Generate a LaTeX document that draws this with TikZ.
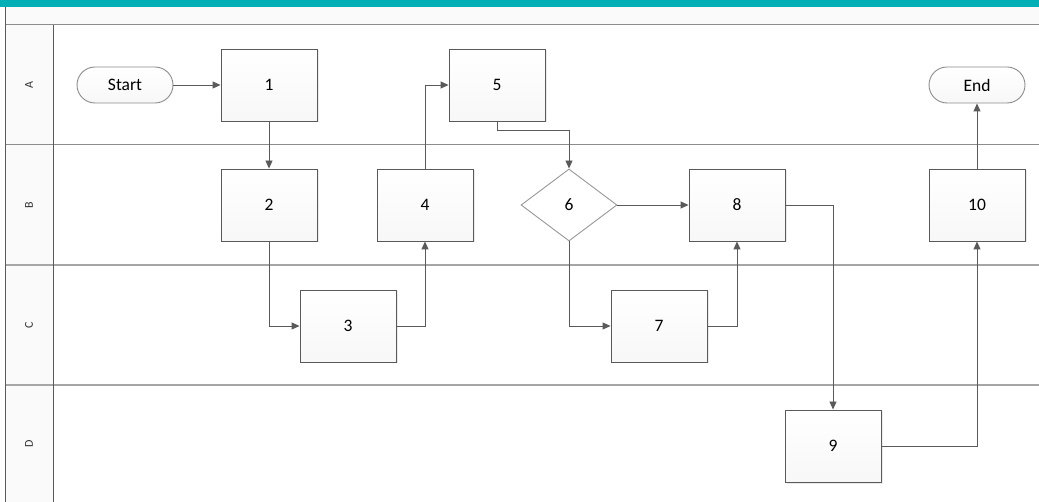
\documentclass[tikz,border=0pt]{standalone}
\usepackage{fontspec}
\setmainfont{Carlito}
\usetikzlibrary{arrows.meta,shapes.geometric,shadows}
\definecolor{teal1}{RGB}{0,175,181}
\definecolor{edge}{RGB}{90,90,90}
\definecolor{lane}{RGB}{140,140,140}
\definecolor{hdr}{RGB}{250,250,250}
\tikzset{
  procbox/.style={draw=edge, line width=0.9pt, top color=white, bottom color=black!3,
    minimum width=96pt, minimum height=72pt, inner sep=0pt, font=\fontsize{17.5}{20}\selectfont,
    drop shadow={shadow xshift=1.5pt, shadow yshift=-1.5pt, fill=black, opacity=0.08}},
  termbox/.style={draw=lane, line width=0.9pt, rounded corners=18pt, top color=white, bottom color=black!3,
    minimum width=96pt, minimum height=36pt, inner sep=0pt, font=\fontsize{17.5}{20}\selectfont},
  decbox/.style={diamond, draw=black!40, line width=0.9pt, fill=white,
    minimum width=96pt, minimum height=72pt, inner sep=0pt, font=\fontsize{17.5}{20}\selectfont},
  conn/.style={draw=edge, line width=0.9pt, -{Triangle[length=8pt,width=7pt]}},
  lanelabel/.style={rotate=90, font=\fontsize{12}{14}\selectfont, text=black!80},
}
\begin{document}
\begin{tikzpicture}[x=1pt,y=-1pt]
\useasboundingbox (0,0) rectangle (1039,502);
% background
\fill[white] (0,0) rectangle (1039,502);
\fill[hdr] (5,7) rectangle (1039,25);
\fill[black!2] (5,25) rectangle (53,502);
\fill[teal1] (0,0) rectangle (1039,7);
% lane lines
\draw[lane, line width=1pt] (5,25) -- (1039,25);
\draw[lane, line width=1pt] (5,145) -- (1039,145);
\draw[black!35, line width=1.3pt] (5,265) -- (1039,265);
\draw[black!35, line width=1.3pt] (5,385) -- (1039,385);
\draw[edge, line width=1pt] (5,7) -- (5,502);
\draw[edge, line width=1pt] (53,25) -- (53,502);
% lane labels
\node[lanelabel] (la) at (29,85) {A};
\node[lanelabel] (lb) at (29,205) {B};
\node[lanelabel] (lc) at (29,325) {C};
\node[lanelabel] (ld) at (29,444) {D};
% nodes
\node[termbox] (st) at (125,85) {Start};
\node[procbox] (n1) at (269,85) {1};
\node[procbox] (n2) at (269,205) {2};
\node[procbox] (n3) at (348,326) {3};
\node[procbox] (n4) at (425,205) {4};
\node[procbox] (n5) at (497,85) {5};
\node[decbox] (n6) at (569,205) {6};
\node[procbox] (n7) at (659,326) {7};
\node[procbox] (n8) at (737,205) {8};
\node[procbox] (n9) at (833,446) {9};
\node[procbox] (n10) at (977,205) {10};
\node[termbox] (en) at (977,85) {End};
% connectors
\draw[conn] (st) -- (n1);
\draw[conn] (n1) -- (n2);
\draw[conn] (n2.south) |- (n3.west);
\draw[conn] (n3.east) -| (n4.south);
\draw[conn] (n4.north) |- (n5.west);
\draw[conn] (n5.south) -- ++(0,9) -| (n6.north);
\draw[conn] (n6.east) -- (n8.west);
\draw[conn] (n6.south) |- (n7.west);
\draw[conn] (n7.east) -| (n8.south);
\draw[conn] (n8.east) -| (n9.north);
\draw[conn] (n9.east) -| (n10.south);
\draw[conn] (n10.north) -- (en.south);
\end{tikzpicture}
\end{document}
